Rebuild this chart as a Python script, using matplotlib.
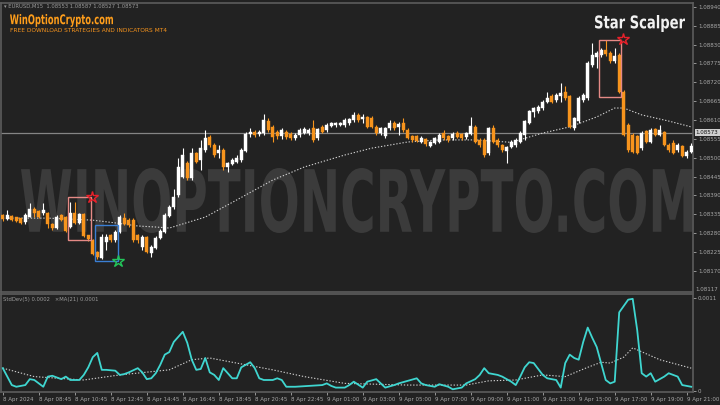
import matplotlib
matplotlib.use('Agg')
import matplotlib.pyplot as plt
import numpy as np
from matplotlib.textpath import TextPath
from matplotlib.font_manager import FontProperties
from matplotlib.patches import PathPatch, Rectangle
from matplotlib.transforms import Affine2D

# ---------------- data ----------------
opens = [1.08333,1.08320,1.08330,1.08326,1.08323,1.08313,1.08328,1.08352,1.08345,1.08339,
         1.08338,1.08308,1.08294,1.08333,1.08328,1.08297,1.08338,1.08311,1.08336,1.08274,
         1.08260,1.08226,1.08209,1.08255,1.08274,1.08260,1.08284,1.08323,1.08318,1.08318,
         1.08274,1.08240,1.08269,1.08223,1.08238,1.08265,1.08284,1.08330,1.08355,1.08391,
         1.08445,1.08484,1.08440,1.08513,1.08493,1.08523,1.08561,1.08537,1.08513,1.08523,
         1.08474,1.08482,1.08489,1.08493,1.08521,1.08569,1.08576,1.08569,1.08571,1.08608,
         1.08591,1.08576,1.08563,1.08576,1.08569,1.08557,1.08566,1.08573,1.08571,1.08586,
         1.08557,1.08591,1.08581,1.08594,1.08595,1.08595,1.08595,1.08600,1.08610,1.08625,
         1.08612,1.08618,1.08615,1.08591,1.08571,1.08563,1.08586,1.08602,1.08591,1.08600,
         1.08581,1.08563,1.08563,1.08547,1.08555,1.08534,1.08544,1.08547,1.08573,1.08563,
         1.08557,1.08573,1.08569,1.08560,1.08569,1.08591,1.08552,1.08552,1.08513,1.08586,
         1.08552,1.08537,1.08521,1.08530,1.08537,1.08547,1.08567,1.08601,1.08632,1.08635,
         1.08645,1.08664,1.08680,1.08667,1.08679,1.08693,1.08679,1.08586,1.08606,1.08667,
         1.08674,1.08771,1.08795,1.08800,1.08815,1.08805,1.08781,1.08800,1.08693,1.08596,
         1.08567,1.08562,1.08528,1.08577,1.08547,1.08583,1.08567,1.08574,1.08538,1.08543,
         1.08523,1.08533,1.08504,1.08518]
highs = [1.08336,1.08347,1.08333,1.08328,1.08325,1.08338,1.08367,1.08355,1.08347,1.08367,
         1.08342,1.08310,1.08332,1.08336,1.08330,1.08372,1.08372,1.08340,1.08340,1.08276,
         1.08263,1.08228,1.08279,1.08279,1.08279,1.08289,1.08333,1.08338,1.08325,1.08323,
         1.08279,1.08274,1.08272,1.08245,1.08272,1.08292,1.08338,1.08362,1.08410,1.08498,
         1.08527,1.08490,1.08527,1.08518,1.08552,1.08581,1.08566,1.08542,1.08537,1.08527,
         1.08489,1.08498,1.08508,1.08527,1.08576,1.08586,1.08581,1.08581,1.08629,1.08615,
         1.08595,1.08581,1.08586,1.08581,1.08574,1.08571,1.08586,1.08591,1.08586,1.08610,
         1.08588,1.08595,1.08600,1.08605,1.08603,1.08603,1.08615,1.08617,1.08632,1.08630,
         1.08629,1.08622,1.08622,1.08595,1.08590,1.08590,1.08610,1.08608,1.08603,1.08615,
         1.08586,1.08566,1.08566,1.08563,1.08559,1.08550,1.08561,1.08571,1.08581,1.08566,
         1.08574,1.08578,1.08573,1.08576,1.08620,1.08595,1.08557,1.08557,1.08590,1.08595,
         1.08557,1.08540,1.08535,1.08552,1.08557,1.08577,1.08610,1.08640,1.08649,1.08654,
         1.08669,1.08693,1.08685,1.08688,1.08717,1.08708,1.08683,1.08620,1.08679,1.08688,
         1.08781,1.08834,1.08810,1.08820,1.08844,1.08810,1.08820,1.08805,1.08698,1.08601,
         1.08572,1.08567,1.08577,1.08581,1.08586,1.08588,1.08596,1.08577,1.08543,1.08552,
         1.08543,1.08538,1.08523,1.08543]
lows =  [1.08317,1.08318,1.08315,1.08313,1.08307,1.08308,1.08326,1.08328,1.08325,1.08333,
         1.08294,1.08290,1.08292,1.08315,1.08284,1.08294,1.08306,1.08308,1.08268,1.08258,
         1.08216,1.08206,1.08206,1.08231,1.08255,1.08255,1.08280,1.08305,1.08299,1.08255,
         1.08250,1.08231,1.08221,1.08211,1.08235,1.08262,1.08280,1.08328,1.08352,1.08386,
         1.08440,1.08435,1.08435,1.08484,1.08464,1.08518,1.08532,1.08503,1.08498,1.08464,
         1.08459,1.08478,1.08484,1.08489,1.08518,1.08561,1.08561,1.08564,1.08566,1.08576,
         1.08547,1.08556,1.08556,1.08556,1.08552,1.08552,1.08561,1.08569,1.08566,1.08547,
         1.08552,1.08571,1.08576,1.08591,1.08591,1.08592,1.08591,1.08595,1.08605,1.08605,
         1.08600,1.08586,1.08586,1.08566,1.08566,1.08559,1.08581,1.08581,1.08566,1.08576,
         1.08554,1.08547,1.08545,1.08542,1.08535,1.08530,1.08540,1.08542,1.08552,1.08547,
         1.08552,1.08557,1.08552,1.08555,1.08565,1.08542,1.08532,1.08503,1.08508,1.08542,
         1.08532,1.08518,1.08484,1.08527,1.08532,1.08543,1.08552,1.08598,1.08620,1.08630,
         1.08640,1.08660,1.08660,1.08662,1.08664,1.08669,1.08586,1.08581,1.08601,1.08662,
         1.08669,1.08766,1.08761,1.08795,1.08798,1.08776,1.08776,1.08688,1.08562,1.08518,
         1.08513,1.08510,1.08523,1.08543,1.08543,1.08562,1.08562,1.08533,1.08518,1.08510,
         1.08518,1.08501,1.08499,1.08513]
closes = [1.08320,1.08333,1.08318,1.08316,1.08310,1.08333,1.08352,1.08338,1.08328,1.08347,
          1.08306,1.08294,1.08328,1.08318,1.08287,1.08338,1.08311,1.08336,1.08271,1.08262,
          1.08219,1.08211,1.08269,1.08269,1.08260,1.08284,1.08328,1.08308,1.08303,1.08260,
          1.08260,1.08269,1.08226,1.08240,1.08267,1.08287,1.08333,1.08357,1.08386,1.08474,
          1.08508,1.08440,1.08513,1.08489,1.08527,1.08557,1.08537,1.08508,1.08523,1.08474,
          1.08484,1.08493,1.08498,1.08524,1.08569,1.08576,1.08566,1.08576,1.08610,1.08581,
          1.08561,1.08563,1.08581,1.08561,1.08559,1.08566,1.08581,1.08583,1.08581,1.08552,
          1.08583,1.08576,1.08595,1.08600,1.08600,1.08600,1.08610,1.08612,1.08625,1.08610,
          1.08620,1.08591,1.08591,1.08571,1.08586,1.08586,1.08600,1.08586,1.08598,1.08581,
          1.08559,1.08552,1.08550,1.08559,1.08540,1.08547,1.08557,1.08566,1.08557,1.08552,
          1.08569,1.08561,1.08557,1.08571,1.08593,1.08547,1.08537,1.08508,1.08586,1.08547,
          1.08537,1.08523,1.08530,1.08547,1.08552,1.08572,1.08606,1.08635,1.08645,1.08649,
          1.08664,1.08674,1.08664,1.08683,1.08690,1.08674,1.08591,1.08615,1.08674,1.08683,
          1.08776,1.08800,1.08805,1.08813,1.08803,1.08781,1.08797,1.08693,1.08567,1.08523,
          1.08518,1.08515,1.08572,1.08547,1.08581,1.08567,1.08581,1.08538,1.08523,1.08515,
          1.08538,1.08506,1.08518,1.08535]

# moving average on the price chart (read at selected bars)
ma_bars = [0, 10, 20, 25, 30, 34, 37, 45, 52, 60, 67, 76, 82, 90, 97, 105, 113, 120, 126, 132, 136, 138, 142, 148, 153]
ma_vals = [1.08324, 1.08324, 1.08318, 1.08310, 1.08301, 1.08298, 1.08295, 1.08327, 1.08377, 1.08435, 1.08473,
           1.08508, 1.08528, 1.08546, 1.08552, 1.08552, 1.08545, 1.08572, 1.08590, 1.08619, 1.08645, 1.08645,
           1.08625, 1.08607, 1.08590]

# StdDev(5) indicator
std_bars = [0,2,3,5,6,7,8,9,10,11,13,14,15,17,18,19,20,21,22,23,25,26,27,28,30,31,32,33,34,35,
            36,37,38,40,41,42,43,44,45,46,47,48,49,50,51,52,53,55,56,57,58,60,61,62,63,65,68,71,72,73,
            74,76,77,78,80,81,83,84,85,87,88,90,92,93,94,96,97,99,100,102,103,105,106,107,108,110,111,113,114,115,
            116,117,118,120,121,123,124,125,126,127,128,129,130,131,132,134,135,136,137,139,
            140,141,142,143,144,145,147,148,150,151,153]
std_vals = [0.00027,0.00007,0.00005,0.00007,0.00014,0.00013,0.00009,0.00005,0.00017,0.00018,
            0.00014,0.00017,0.00013,0.00013,0.00019,0.00028,0.00040,0.00045,0.00025,0.00025,
            0.00024,0.00019,0.00020,0.00022,0.00027,0.00022,0.00014,0.00015,0.00021,0.00031,
            0.00043,0.00046,0.00058,0.00070,0.00057,0.00037,0.00025,0.00026,0.00039,0.00022,
            0.00019,0.00013,0.00027,0.00021,0.00015,0.00015,0.00028,0.00034,0.00027,0.00015,
            0.00013,0.00013,0.00015,0.00013,0.00005,0.00005,0.00006,0.00007,0.00009,0.00006,
            0.00004,0.00004,0.00007,0.00011,0.00004,0.00011,0.00014,0.00009,0.00004,0.00007,
            0.00009,0.00012,0.00015,0.00009,0.00007,0.00005,0.00008,0.00005,0.00002,0.00004,
            0.00009,0.00014,0.00019,0.00027,0.00021,0.00019,0.00017,0.00011,0.00007,0.00017,
            0.00028,0.00034,0.00033,0.00019,0.00015,0.00013,0.00004,0.00033,0.00043,0.00039,
            0.00037,0.00058,0.00075,0.00063,0.00052,0.00013,0.00009,0.00011,0.00093,0.00108,
            0.00109,0.00072,0.00021,0.00017,0.00021,0.00011,0.00017,0.00021,0.00017,0.00007,
            0.00005]
# MA(21) of the StdDev
sma_bars = [0, 7, 18, 26, 37, 42, 46, 52, 60, 67, 76, 90, 103, 108, 114, 120, 125, 130, 133, 135, 138, 140, 146, 153]
sma_vals = [0.00027, 0.00017, 0.00013, 0.00019, 0.00025, 0.00037, 0.00039, 0.00033, 0.00025, 0.00017, 0.00009,
            0.00007, 0.00007, 0.00012, 0.00013, 0.00019, 0.00017, 0.00028, 0.00034, 0.00033, 0.00040, 0.00051,
            0.00037, 0.00027]

# signal boxes and stars
box_start = [14.5, 20.5, 132.5]
box_end = [19.5, 25.5, 137.5]
box_top = [1.08386, 1.08304, 1.08843]
box_bottom = [1.08260, 1.08199, 1.08677]
box_colors = ['#e58a86', '#3b7fd4', '#e58a86']
star_bars = [19.8, 25.7, 137.8]
star_prices = [1.08386, 1.08200, 1.08846]
star_colors = ['#e8202a', '#22c55a', '#e8202a']

bid_price = 1.08573
price_levels = [1.08940, 1.08885, 1.08830, 1.08775, 1.08720, 1.08665, 1.08610, 1.08555,
                1.08500, 1.08445, 1.08390, 1.08335, 1.08280, 1.08225, 1.08170]
time_bars = list(range(0, 153, 8))
time_labels = ['8 Apr 2024', '8 Apr 08:45', '8 Apr 10:45', '8 Apr 12:45', '8 Apr 14:45', '8 Apr 16:45',
               '8 Apr 18:45', '8 Apr 20:45', '8 Apr 22:45', '9 Apr 01:00', '9 Apr 03:00', '9 Apr 05:00',
               '9 Apr 07:00', '9 Apr 09:00', '9 Apr 11:00', '9 Apr 13:00', '9 Apr 15:00', '9 Apr 17:00',
               '9 Apr 19:00', '9 Apr 21:00']

# ---------------- figure ----------------
W, H = 720, 405
BG = '#222222'
GRID = '#5c5c5c'
TXT = '#a8a8a8'
ORANGE = '#f7941d'

fig = plt.figure(figsize=(7.2, 4.05), dpi=100)
fig.patch.set_facecolor(BG)

def fx(px):
    return px / W

def fy(py):
    return (H - py) / H

ax = fig.add_axes([fx(1), fy(292), fx(693) - fx(1), fy(3) - fy(292)])
ax2 = fig.add_axes([fx(1), fy(392), fx(693) - fx(1), fy(294) - fy(392)])

for a in (ax, ax2):
    a.set_facecolor(BG)
    for s in a.spines.values():
        s.set_color(GRID)
        s.set_linewidth(1.2)

def fit_text(target, s, x0, y0, x1, y1, color, z):
    tp = TextPath((0, 0), s, size=100, prop=FontProperties(family='DejaVu Sans', weight='bold'))
    bb = tp.get_extents()
    tr = (Affine2D().translate(-bb.x0, -bb.y0)
          .scale((x1 - x0) / bb.width / W, (y1 - y0) / bb.height / H)
          .translate(x0 / W, (H - y1) / H))
    patch = PathPatch(tr.transform_path(tp), facecolor=color, edgecolor='none',
                      transform=fig.transFigure, zorder=z)
    if target is None:
        fig.add_artist(patch)
    else:
        target.add_patch(patch)

# watermark
fit_text(ax, 'WINOPTIONCRYPTO.COM', 21, 168, 692, 233, '#3b3b3b', 0.5)

o = np.array(opens); h = np.array(highs); l = np.array(lows); c = np.array(closes)
idx = np.arange(len(o))
cols = np.where(c >= o, '#ffffff', ORANGE)

ax.axhline(bid_price, color='#858585', lw=0.9, zorder=1.5)
ax.plot(ma_bars, ma_vals, color='#d0d0d0', lw=0.8, ls=(0, (1.2, 1.6)), zorder=2)
ax.vlines(idx, l, h, colors=cols, lw=0.8, zorder=3)
ax.bar(idx, np.maximum(np.abs(c - o), 0.000012), bottom=np.minimum(o, c), width=0.62,
       color=cols, edgecolor=cols, lw=0.3, zorder=4)

for b0, b1, t, bt, col in zip(box_start, box_end, box_top, box_bottom, box_colors):
    ax.add_patch(Rectangle((b0, bt), b1 - b0, t - bt, fill=False, edgecolor=col, lw=1.0, zorder=5))
for sb, sp, col in zip(star_bars, star_prices, star_colors):
    ax.plot([sb], [sp], marker='*', ls='none', ms=9, mfc='none', mec=col, mew=1.0, zorder=6)

ax.set_xlim(-0.4, 153.4)
ax.set_ylim(1.081085, 1.089513)
ax.yaxis.tick_right()
ax.set_yticks(price_levels)
ax.set_yticklabels([f'{v:.5f}' for v in price_levels])
ax.tick_params(axis='y', colors=TXT, labelsize=4, length=2, width=0.6, pad=1.5)
ax.tick_params(axis='x', bottom=False, labelbottom=False)
ax.text(1.004, bid_price, f'{bid_price:.5f}', transform=ax.get_yaxis_transform(), fontsize=4,
        color='#111111', va='center', ha='left', clip_on=False, zorder=10,
        bbox=dict(boxstyle='square,pad=0.2', fc='#cfcfcf', ec='none'))
ax.text(1.004, 1.08117, '1.08117', transform=ax.get_yaxis_transform(), fontsize=4,
        color=TXT, va='center', ha='left', clip_on=False)

# indicator panel
ax2.plot(sma_bars, sma_vals, color='#d0d0d0', lw=0.8, ls=(0, (1.2, 1.6)), zorder=2)
ax2.plot(std_bars, std_vals, color='#3fd6d0', lw=1.3, zorder=3)
ax2.set_xlim(-0.4, 153.4)
ax2.set_ylim(-0.000012, 0.001147)
ax2.yaxis.tick_right()
ax2.set_yticks([0, 0.0011])
ax2.set_yticklabels(['0', '0.0011'])
ax2.tick_params(axis='y', colors=TXT, labelsize=4, length=2, width=0.6, pad=1.5)
ax2.set_xticks(time_bars)
ax2.set_xticklabels(time_labels)
ax2.tick_params(axis='x', colors=TXT, labelsize=4, length=2, width=0.6, pad=1.5)
for lb in ax2.get_xticklabels():
    lb.set_ha('left')
ax2.text(0.003, 0.965, 'StdDev(5) 0.0002   \u00d7MA(21) 0.0001', transform=ax2.transAxes,
         fontsize=3.8, color='#9a9a9a', va='top', ha='left')

# header texts
fig.text(fx(4), fy(6), '\u25be EURUSD,M15  1.08553 1.08587 1.08527 1.08573', fontsize=3.8,
         color='#9a9a9a', va='center', ha='left')
fit_text(None, 'WinOptionCrypto.com', 10, 14, 113, 27, '#ff9e1b', 7)
fig.text(fx(10), fy(31), 'FREE DOWNLOAD STRATEGIES AND INDICATORS MT4', fontsize=4.2,
         color=ORANGE, va='center', ha='left')
fit_text(None, 'Star Scalper', 595, 15, 685, 32, '#f2f2f2', 7)

fig.savefig('out.png', dpi=100, facecolor=BG)
